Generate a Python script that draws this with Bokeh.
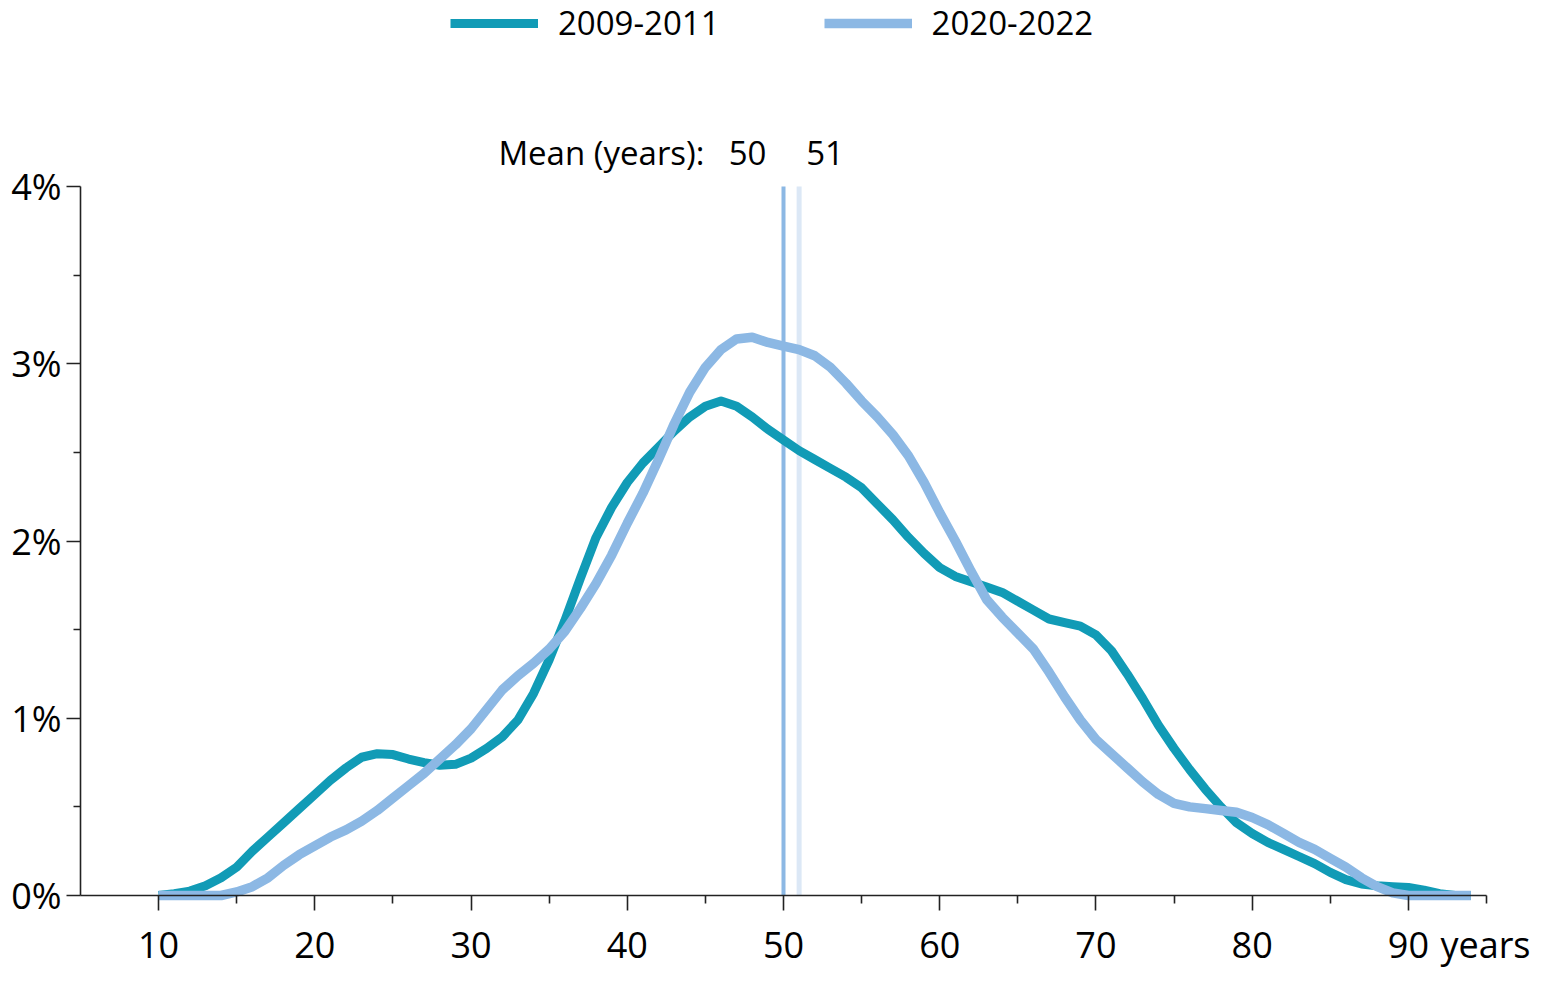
from bokeh.plotting import figure
from bokeh.models import (Range1d, FixedTicker, Legend, LegendItem, Label,
                          ColumnDataSource)
from bokeh.embed import file_html
from bokeh.resources import INLINE

# ---- data -------------------------------------------------------------
ages = list(range(10, 95))
share_2009_2011 = [
    0.0, 0.01, 0.025, 0.055, 0.10, 0.16, 0.25, 0.33, 0.41, 0.49,      # 10-19
    0.57, 0.65, 0.72, 0.78, 0.80, 0.795, 0.77, 0.75, 0.735, 0.74,     # 20-29
    0.775, 0.83, 0.895, 0.99, 1.14, 1.33, 1.55, 1.79, 2.02, 2.19,     # 30-39
    2.33, 2.44, 2.53, 2.62, 2.70, 2.76, 2.79, 2.76, 2.70, 2.63,       # 40-49
    2.57, 2.51, 2.46, 2.41, 2.36, 2.30, 2.21, 2.12, 2.02, 1.93,       # 50-59
    1.85, 1.80, 1.77, 1.74, 1.71, 1.66, 1.61, 1.56, 1.54, 1.52,       # 60-69
    1.47, 1.38, 1.25, 1.11, 0.96, 0.83, 0.71, 0.60, 0.50, 0.41,       # 70-79
    0.35, 0.30, 0.26, 0.22, 0.18, 0.13, 0.09, 0.065, 0.055, 0.05,     # 80-89
    0.045, 0.03, 0.01, 0.0, 0.0,                                      # 90-94
]
share_2020_2022 = [
    0.0, 0.0, 0.0, 0.0, 0.0, 0.02, 0.05, 0.10, 0.17, 0.23,            # 10-19
    0.28, 0.33, 0.37, 0.42, 0.48, 0.55, 0.62, 0.69, 0.77, 0.85,       # 20-29
    0.94, 1.05, 1.16, 1.24, 1.31, 1.39, 1.49, 1.62, 1.76, 1.92,       # 30-39
    2.10, 2.27, 2.46, 2.66, 2.84, 2.98, 3.08, 3.14, 3.15, 3.12,       # 40-49
    3.10, 3.08, 3.045, 2.98, 2.89, 2.79, 2.70, 2.60, 2.48, 2.33,      # 50-59
    2.16, 2.00, 1.83, 1.67, 1.57, 1.48, 1.39, 1.26, 1.12, 0.99,       # 60-69
    0.88, 0.80, 0.72, 0.64, 0.57, 0.52, 0.50, 0.49, 0.48, 0.47,       # 70-79
    0.44, 0.40, 0.35, 0.30, 0.26, 0.21, 0.16, 0.10, 0.05, 0.015,      # 80-89
    0.0, 0.0, 0.0, 0.0, 0.0,                                          # 90-94
]
series_names = ["2009-2011", "2020-2022"]
series_colors = ["#119bb6", "#8cb8e4"]
mean_values = [50, 51]
mean_colors = ["#8cb8e4", "#dce8f6"]
mean_widths = [4, 5]
x_ticks = [10, 20, 30, 40, 50, 60, 70, 80, 90]
x_minor = [15, 25, 35, 45, 55, 65, 75, 85, 95]
x_bounds = (5, 95)
y_ticks = [0, 1, 2, 3, 4]
y_minor = [0.5, 1.5, 2.5, 3.5]
y_tick_labels = {t: f"{t}%" for t in y_ticks}
x_tick_labels = {t: str(t) for t in x_ticks}
x_unit = "years"
mean_caption = "Mean (years):"

# ---- layout (pixels) --------------------------------------------------
W, H = 1536, 970
PX_X0, PX_X1 = 80, 1486      # screen x of x_bounds
PX_Y0, PX_Y1 = 895, 186      # screen y (from top) of y=0 and y=4
ppx = (PX_X1 - PX_X0) / (x_bounds[1] - x_bounds[0])
ppy = (PX_Y0 - PX_Y1) / (y_ticks[-1] - y_ticks[0])
x_lo = x_bounds[0] - PX_X0 / ppx
x_hi = x_bounds[1] + (W - PX_X1) / ppx
y_lo = y_ticks[0] - (H - PX_Y0) / ppy
y_hi = y_ticks[-1] + PX_Y1 / ppy

FONT = "Open Sans"
FS = "33px"
TFS = "36px"

p = figure(width=W, height=H, output_backend="svg", toolbar_location=None,
           x_range=Range1d(x_lo, x_hi), y_range=Range1d(y_lo, y_hi),
           min_border_left=0, min_border_right=0,
           min_border_top=0, min_border_bottom=0)
p.outline_line_color = None
p.xgrid.visible = False
p.ygrid.visible = False
p.background_fill_color = "white"
p.border_fill_color = "white"

# mean lines (under the curves)
msrc = ColumnDataSource(dict(x=mean_values, y0=[y_ticks[0]] * 2,
                             y1=[y_ticks[-1]] * 2, c=mean_colors, w=mean_widths))
p.segment(x0="x", y0="y0", x1="x", y1="y1", source=msrc, line_color="c",
          line_width="w")

src = ColumnDataSource(dict(age=ages, a=share_2009_2011, b=share_2020_2022))
r1 = p.line("age", "a", source=src, line_color=series_colors[0], line_width=9,
            line_join="round")
r2 = p.line("age", "b", source=src, line_color=series_colors[1], line_width=9.5,
            line_join="round")

# axes at fixed locations
for ax in (p.xaxis[0], p.yaxis[0]):
    ax.axis_line_color = "#222222"
    ax.axis_line_width = 1.6
    ax.major_tick_line_color = "#222222"
    ax.major_tick_line_width = 1.6
    ax.minor_tick_line_color = "#222222"
    ax.minor_tick_line_width = 1.6
    ax.major_tick_in = 0
    ax.minor_tick_in = 0
    ax.major_label_text_font = FONT
    ax.major_label_text_font_size = TFS
    ax.major_label_text_color = "black"

p.xaxis.fixed_location = y_ticks[0]
p.xaxis.bounds = x_bounds
p.xaxis.ticker = FixedTicker(ticks=x_ticks, minor_ticks=x_minor)
p.xaxis.major_label_overrides = x_tick_labels
p.xaxis.major_tick_out = 15
p.xaxis.minor_tick_out = 8
p.xaxis.major_label_standoff = 21

p.yaxis.fixed_location = x_bounds[0]
p.yaxis.bounds = (y_ticks[0], y_ticks[-1])
p.yaxis.ticker = FixedTicker(ticks=y_ticks, minor_ticks=y_minor)
p.yaxis.major_label_overrides = y_tick_labels
p.yaxis.major_tick_out = 14
p.yaxis.minor_tick_out = 7
p.yaxis.major_label_standoff = 5

# "years" after the last tick label
p.add_layout(Label(x=x_ticks[-1], y=y_ticks[0], x_offset=32, y_offset=-24,
                   text=x_unit, text_font=FONT, text_font_size=TFS,
                   text_align="left", text_baseline="top", text_color="black"))

# mean caption
cap_kw = dict(y=y_ticks[-1], y_offset=34, text_font=FONT, text_font_size=FS,
              text_baseline="middle", text_color="black")
p.add_layout(Label(x=mean_values[0], x_offset=-79, text=mean_caption,
                   text_align="right", **cap_kw))
p.add_layout(Label(x=mean_values[0], x_offset=-36, text=str(mean_values[0]),
                   text_align="center", **cap_kw))
p.add_layout(Label(x=mean_values[1], x_offset=26, text=str(mean_values[1]),
                   text_align="center", **cap_kw))

# legend
legend = Legend(items=[LegendItem(label=series_names[0], renderers=[r1]),
                       LegendItem(label=series_names[1], renderers=[r2])],
                orientation="horizontal", location=(450, H - 45),
                glyph_width=88, glyph_height=28, label_height=28,
                label_standoff=20, spacing=104, padding=0, margin=0,
                label_text_font=FONT, label_text_font_size=FS,
                label_text_color="black",
                background_fill_alpha=0, border_line_color=None)
p.add_layout(legend, "center")

open("out.html", "w").write(file_html(p, INLINE))
